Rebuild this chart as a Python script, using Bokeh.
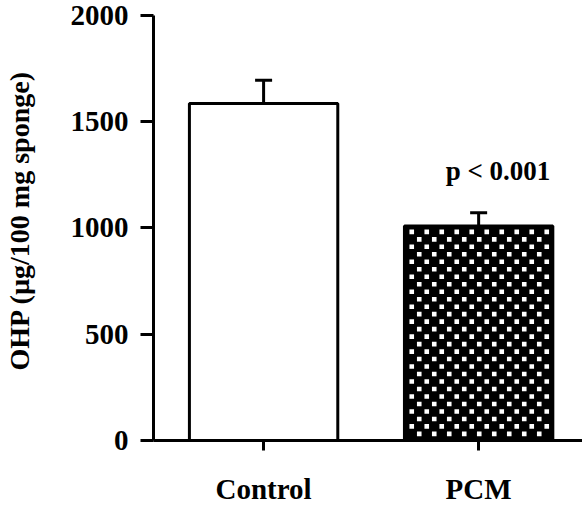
import numpy as np
from bokeh.plotting import figure
from bokeh.models import Range1d, FixedTicker, Whisker, TeeHead, ColumnDataSource
from bokeh.core.properties import value
from bokeh.embed import file_html
from bokeh.resources import INLINE

# ---- data ----
categories = ["Control", "PCM"]
means = [1586, 1009]
sem = [109, 63]
y_ticks = [0, 500, 1000, 1500, 2000]
y_label = "OHP (µg/100 mg sponge)"
annot_text = ["p < 0.001"]
annot_x = [1.59]
annot_y = [1268]

FONT = "Liberation Serif"
xs = [i + 0.5 for i in range(len(categories))]
BAR_W = 0.69

W, H = 582, 507
LEFT = 153
FRAME_BOTTOM = 441
X0, X1 = -0.012, 1.983
Y1 = 2070.4
p = figure(width=W, height=H, output_backend="svg", toolbar_location=None,
           x_range=Range1d(X0, X1), y_range=Range1d(0, Y1),
           min_border_left=LEFT, min_border_right=0, min_border_top=0,
           min_border_bottom=H - FRAME_BOTTOM)
p.outline_line_color = None
p.xgrid.visible = False
p.ygrid.visible = False

src = ColumnDataSource(dict(x=xs, top=means, upper=[m + s for m, s in zip(means, sem)],
                            fill=["white", "black"]))

# bars
p.vbar(x="x", top="top", width=BAR_W, bottom=0, source=src,
       fill_color="fill", line_color=None)

# checker pattern on PCM bar (white squares on black)
px_per_x = (W - LEFT) / (X1 - X0)
px_per_y = FRAME_BOTTOM / Y1
i_pcm = 1
xl = xs[i_pcm] - BAR_W / 2
xr = xs[i_pcm] + BAR_W / 2
dx = 15 / px_per_x
dy = 7.5 / px_per_y
half = 2.3
sq_x, sq_y = [], []
row = 0
yc = means[i_pcm] - (3.5 + half) / px_per_y
while yc - half / px_per_y > 0:
    xc = xl + (5.0 + half) / px_per_x + (dx / 2 if row % 2 else 0)
    while xc + (half + 2) / px_per_x < xr:
        sq_x.append(xc)
        sq_y.append(yc)
        xc += dx
    yc -= dy
    row += 1
p.rect(x=sq_x, y=sq_y, width=4.6, height=4.6, width_units="screen",
       height_units="screen", fill_color="white", line_color=None)

# bar outlines
p.vbar(x="x", top="top", width=BAR_W, bottom=0, source=src,
       fill_color=None, line_color="black", line_width=3)

# error bars (upper only)
w = Whisker(base="x", upper="upper", lower="top", source=src,
            upper_head=TeeHead(size=17, line_width=3, line_color="black"),
            lower_head=None, line_width=3, line_color="black")
p.add_layout(w)

# annotation
p.text(x=annot_x, y=annot_y, text=annot_text, text_align="center",
       text_baseline="middle", text_font=value(FONT), text_font_style="bold",
       text_font_size="27px", text_color="black")

# y axis
ya = p.yaxis[0]
ya.ticker = FixedTicker(ticks=y_ticks)
ya.bounds = (0, 2000)
ya.axis_line_width = 3
ya.major_tick_line_width = 3
ya.major_tick_out = 13
ya.major_tick_in = 0
ya.minor_tick_out = 0
ya.minor_tick_in = 0
ya.major_label_standoff = 12
ya.major_label_text_font = FONT
ya.major_label_text_font_style = "bold"
ya.major_label_text_font_size = "29px"
ya.major_label_text_color = "black"
ya.axis_label = y_label
ya.axis_label_text_font = FONT
ya.axis_label_text_font_style = "bold"
ya.axis_label_text_font_size = "28px"
ya.axis_label_standoff = 33
ya.axis_label_text_color = "black"

# x axis
xa = p.xaxis[0]
xa.ticker = FixedTicker(ticks=xs)
xa.major_label_overrides = {x: c for x, c in zip(xs, categories)}
xa.axis_line_width = 3
xa.major_tick_line_width = 3
xa.major_tick_out = 10
xa.major_tick_in = 0
xa.minor_tick_out = 0
xa.minor_tick_in = 0
xa.major_label_standoff = 22
xa.major_label_text_font = FONT
xa.major_label_text_font_style = "bold"
xa.major_label_text_font_size = "29px"
xa.major_label_text_color = "black"

open("out.html", "w").write(file_html(p, INLINE))
